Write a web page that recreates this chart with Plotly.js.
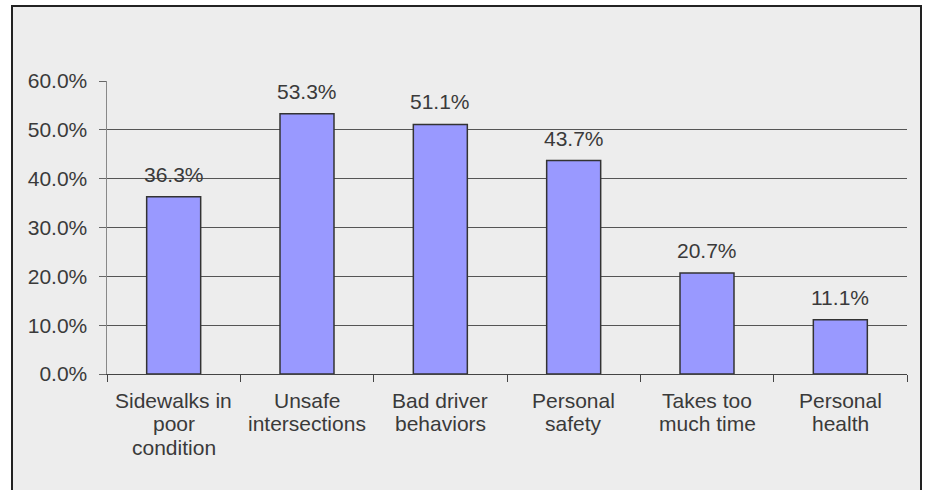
<!DOCTYPE html>
<html>
<head>
<meta charset="utf-8">
<script src="https://cdn.plot.ly/plotly-3.0.1.min.js"></script>
<style>html,body{margin:0;padding:0;background:#fff;}#chart{width:935px;height:490px;}</style>
</head>
<body>
<div id="chart"></div>
<script>
const categories = ["Sidewalks in<br>poor<br>condition", "Unsafe<br>intersections", "Bad driver<br>behaviors", "Personal<br>safety", "Takes too<br>much time", "Personal<br>health"];
const values = [36.3, 53.3, 51.1, 43.7, 20.7, 11.1];
const yTicks = [0, 10, 20, 30, 40, 50, 60];

const txtColor = "#3a3a3a";
const fontFam = "Liberation Sans, Arial, sans-serif";
const fs = 21;

const annotations = categories.map((c, i) => ({
  x: c, y: values[i], xref: "x", yref: "y",
  text: values[i].toFixed(1) + "%",
  showarrow: false, yanchor: "bottom", yshift: 9,
  font: {family: fontFam, size: fs, color: txtColor}
}));

// category labels, one annotation per line (tighter line spacing than tick labels)
categories.forEach(c => {
  c.split("<br>").forEach((line, k) => {
    annotations.push({
      x: c, y: 0, xref: "x", yref: "paper",
      text: line, showarrow: false, yanchor: "middle",
      yshift: -(26 + k * 23.5),
      font: {family: fontFam, size: fs, color: txtColor}
    });
  });
});

const trace = {
  type: "bar", x: categories, y: values,
  marker: {color: "#9999FF", line: {color: "#333333", width: 1.5}},
  width: 0.405, hoverinfo: "none"
};

const layout = {
  width: 935, height: 490,
  margin: {l: 107, r: 28, t: 81, b: 116, pad: 0},
  paper_bgcolor: "#ffffff",
  plot_bgcolor: "rgba(0,0,0,0)",
  showlegend: false,
  bargap: 0.595,
  font: {family: fontFam, size: fs, color: txtColor},
  xaxis: {
    type: "category",
    showline: true, linecolor: "#444", linewidth: 1,
    ticks: "outside", tickson: "boundaries", ticklen: 7, tickcolor: "#444",
    showticklabels: false,
    showgrid: false, zeroline: false
  },
  yaxis: {
    range: [0, 60], tickvals: yTicks,
    ticktext: yTicks.map(v => v.toFixed(1) + "%"),
    showline: true, linecolor: "#888", linewidth: 1.5,
    ticks: "outside", ticklen: 7, tickcolor: "#666",
    ticklabelstandoff: 7,
    showgrid: true, gridcolor: "#555", gridwidth: 1,
    zeroline: false,
    tickfont: {family: fontFam, size: fs, color: txtColor}
  },
  shapes: [{
    type: "rect", xref: "paper", yref: "paper", layer: "below",
    x0: (12 - 107) / 800, x1: (921 - 107) / 800,
    y0: (374 - 500) / 293, y1: (374 - 6) / 293,
    fillcolor: "#EDEDED", line: {color: "#222", width: 2}
  }],
  annotations: annotations
};

Plotly.newPlot("chart", [trace], layout, {staticPlot: true, displayModeBar: false});
</script>
</body>
</html>
